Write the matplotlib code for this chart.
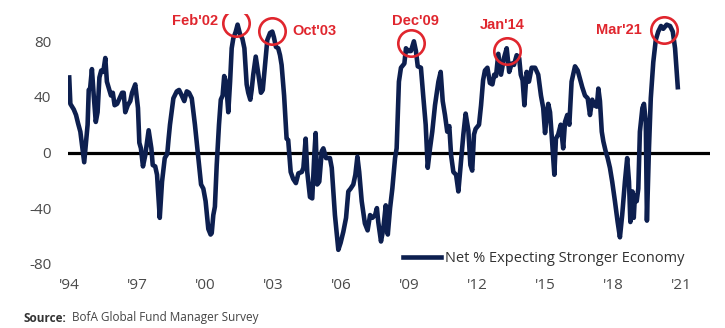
import matplotlib
matplotlib.use("Agg")
import matplotlib.pyplot as plt

# survey readings (decimal year, net % expecting stronger economy)
dates = [
    1994.01, 1994.06, 1994.21, 1994.31, 1994.40, 1994.50, 1994.67, 1994.82, 1994.87, 1994.93,
    1995.01, 1995.09, 1995.18, 1995.26, 1995.34, 1995.42, 1995.51, 1995.60, 1995.67, 1995.85,
    1995.93, 1996.01, 1996.12, 1996.34, 1996.41, 1996.48, 1996.59, 1996.70, 1996.78, 1996.92,
    1997.04, 1997.10, 1997.17, 1997.26, 1997.36, 1997.51, 1997.63, 1997.69, 1997.80, 1997.88,
    1998.00, 1998.10, 1998.22, 1998.33, 1998.39, 1998.45, 1998.60, 1998.75, 1998.85, 1998.97,
    1999.08, 1999.19, 1999.29, 1999.41, 1999.55, 1999.70, 1999.82, 1999.92, 2000.02, 2000.14,
    2000.24, 2000.29, 2000.36, 2000.43, 2000.51, 2000.61, 2000.69, 2000.77, 2000.84, 2000.92,
    2001.02, 2001.10, 2001.17, 2001.24, 2001.35, 2001.43, 2001.54, 2001.64, 2001.73, 2001.83,
    2001.90, 2001.99, 2002.05, 2002.12, 2002.23, 2002.34, 2002.46, 2002.54, 2002.64, 2002.74,
    2002.86, 2002.96, 2003.03, 2003.12, 2003.22, 2003.30, 2003.37, 2003.48, 2003.59, 2003.66,
    2003.77, 2003.88, 2004.00, 2004.11, 2004.26, 2004.33, 2004.43, 2004.50, 2004.62, 2004.72,
    2004.81, 2004.87, 2004.94, 2005.03, 2005.14, 2005.21, 2005.33, 2005.50, 2005.58, 2005.72,
    2005.87, 2005.97, 2006.09, 2006.21, 2006.31, 2006.41, 2006.53, 2006.62, 2006.71, 2006.79,
    2006.90, 2007.04, 2007.16, 2007.27, 2007.37, 2007.49, 2007.57, 2007.63, 2007.75, 2007.85,
    2007.96, 2008.05, 2008.15, 2008.25, 2008.37, 2008.44, 2008.54, 2008.63, 2008.78, 2008.85,
    2008.95, 2009.07, 2009.20, 2009.29, 2009.37, 2009.51, 2009.61, 2009.72, 2009.81, 2009.91,
    2010.01, 2010.13, 2010.28, 2010.38, 2010.47, 2010.57, 2010.67, 2010.76, 2010.84, 2010.94,
    2011.06, 2011.16, 2011.26, 2011.38, 2011.48, 2011.60, 2011.69, 2011.77, 2011.85, 2011.92,
    2012.07, 2012.16, 2012.25, 2012.33, 2012.44, 2012.55, 2012.66, 2012.74, 2012.82, 2012.92,
    2013.04, 2013.17, 2013.29, 2013.40, 2013.51, 2013.61, 2013.73, 2013.84, 2013.91, 2013.99,
    2014.07, 2014.17, 2014.27, 2014.39, 2014.54, 2014.68, 2014.80, 2014.90, 2014.98, 2015.05,
    2015.12, 2015.20, 2015.27, 2015.39, 2015.46, 2015.56, 2015.67, 2015.78, 2015.86, 2015.96,
    2016.05, 2016.15, 2016.30, 2016.42, 2016.52, 2016.62, 2016.74, 2016.86, 2016.96, 2017.06,
    2017.15, 2017.26, 2017.33, 2017.40, 2017.48, 2017.55, 2017.65, 2017.74, 2017.84, 2017.94,
    2018.06, 2018.18, 2018.28, 2018.38, 2018.50, 2018.60, 2018.68, 2018.74, 2018.83, 2018.89,
    2018.94, 2019.02, 2019.09, 2019.16, 2019.27, 2019.34, 2019.42, 2019.47, 2019.56, 2019.64,
    2019.75, 2019.86, 2019.97, 2020.09, 2020.19, 2020.34, 2020.49, 2020.61, 2020.71, 2020.83,
]
net_pct = [
    54, 35, 31, 27, 21, 15, -7, 20, 45, 46,
    60, 41, 22, 29, 54, 59, 58, 68, 51, 41,
    43, 34, 35, 43, 43, 29, 34, 37, 43, 49,
    32, 7, 3, -10, -2, 16, 3, -9, -10, -16,
    -47, -21, -4, -1, 10, 20, 39, 44, 45, 41,
    37, 44, 43, 39, 20, -4, -23, -26, -35, -55,
    -59, -58, -45, -39, -9, 20, 38, 41, 55, 51,
    29, 51, 75, 82, 87, 92, 85, 82, 75, 49,
    43, 38, 45, 56, 69, 57, 43, 45, 63, 81,
    86, 87, 83, 76, 75, 70, 63, 41, 10, 9,
    -14, -19, -22, -15, -14, -11, 10, -14, -32, -33,
    -2, 14, -23, -21, 1, 3, -4, -4, -11, -45,
    -70, -65, -57, -47, -28, -26, -23, -16, -3, -14,
    -35, -51, -56, -45, -47, -45, -40, -50, -64, -55,
    -38, -59, -40, -26, -4, 3, 51, 61, 64, 75,
    73, 73, 80, 73, 62, 61, 41, 20, -11, 3,
    15, 34, 51, 58, 37, 27, 15, 19, -2, -14,
    -16, -28, -9, 13, 28, 16, -9, -13, 13, 17,
    20, 34, 52, 59, 61, 50, 49, 56, 55, 71,
    56, 68, 75, 58, 64, 63, 70, 68, 56, 52,
    34, 58, 51, 61, 61, 56, 41, 32, 14, 25,
    35, 29, 13, -16, 10, 13, 20, 3, 22, 27,
    20, 51, 62, 59, 53, 47, 41, 39, 27, 38,
    34, 33, 46, 37, 15, 8, 1, -4, -11, -21,
    -35, -50, -61, -45, -21, -4, -21, -50, -28, -47,
    -31, -35, -26, 15, 32, 35, 22, -49, 3, 39,
    65, 81, 87, 91, 89, 92, 91, 87, 75, 47,
]

tick_years = list(range(1994, 2022, 3))
tick_labels = ["'" + str(y)[2:] for y in tick_years]
y_ticks = [-80, -40, 0, 40, 80]

# highlighted peaks: label, circle centre (year, value), label anchor (year, value, ha)
peak_labels = ["Feb'02", "Oct'03", "Dec'09", "Jan'14", "Mar'21"]
peak_dates = [2001.36, 2002.93, 2009.06, 2013.29, 2020.23]
peak_values = [93, 87.6, 79, 73.2, 88.1]
label_pos = [(1999.55, 94.6, "center"), (2003.83, 87.4, "left"), (2009.25, 94.8, "center"),
             (2013.11, 91.7, "center"), (2018.24, 88.1, "center")]

NAVY = "#0d1f4f"
RED = "#e0262e"
GREY = "#4a4a4a"
TICK_FONT = "Open Sans"

fig = plt.figure(figsize=(7.25, 3.28), dpi=100)
ax = fig.add_axes([68 / 725, 0.1875, 642 / 725, 0.7713])

ax.axhline(0, color="black", lw=2.3, zorder=1)
ax.plot(dates, net_pct, color=NAVY, lw=3.3, solid_joinstyle="round",
        label="Net % Expecting Stronger Economy", zorder=2)

ax.plot(peak_dates, peak_values, "o", ms=19, mfc="none", mec=RED, mew=1.9, zorder=3)
for lab, (lx, ly, ha) in zip(peak_labels, label_pos):
    ax.text(lx, ly, lab, color=RED, fontsize=10.5, fontweight="bold",
            family="Liberation Sans", ha=ha, va="center", zorder=4)

ax.set_xlim(1993.956, 2022.25)
ax.set_ylim(-82, 100)
ax.set_xticks(tick_years)
ax.set_xticklabels(tick_labels)
ax.set_yticks(y_ticks)
ax.set_yticklabels([str(v) for v in y_ticks])
ax.tick_params(axis="both", length=0, labelsize=11, labelcolor=GREY)
ax.tick_params(axis="y", pad=12)
ax.tick_params(axis="x", pad=8)
for lbl in ax.get_xticklabels() + ax.get_yticklabels():
    lbl.set_family(TICK_FONT)
for s in ax.spines.values():
    s.set_visible(False)
ax.patch.set_alpha(0)

leg = ax.legend(loc="center left", bbox_to_anchor=(403 / 725, 1 - 259 / 328),
                bbox_transform=fig.transFigure, frameon=False, borderpad=0,
                borderaxespad=0, handlelength=2.6, handletextpad=0.25,
                prop={"family": TICK_FONT, "size": 10.5})
for t in leg.get_texts():
    t.set_color("#333333")
for h in leg.get_lines():
    h.set_linewidth(3.3)

src = fig.text(24 / 725, 1 - 318 / 328, "Source:", fontsize=8.5, fontweight="bold",
               family=TICK_FONT, color="#333333", va="center")
ax.annotate("BofA Global Fund Manager Survey", xy=(1, 0.5), xycoords=src,
            xytext=(4, 0), textcoords="offset points", va="center",
            fontsize=8.5, family=TICK_FONT, color="#444444")

fig.savefig("out.png", dpi=100)
